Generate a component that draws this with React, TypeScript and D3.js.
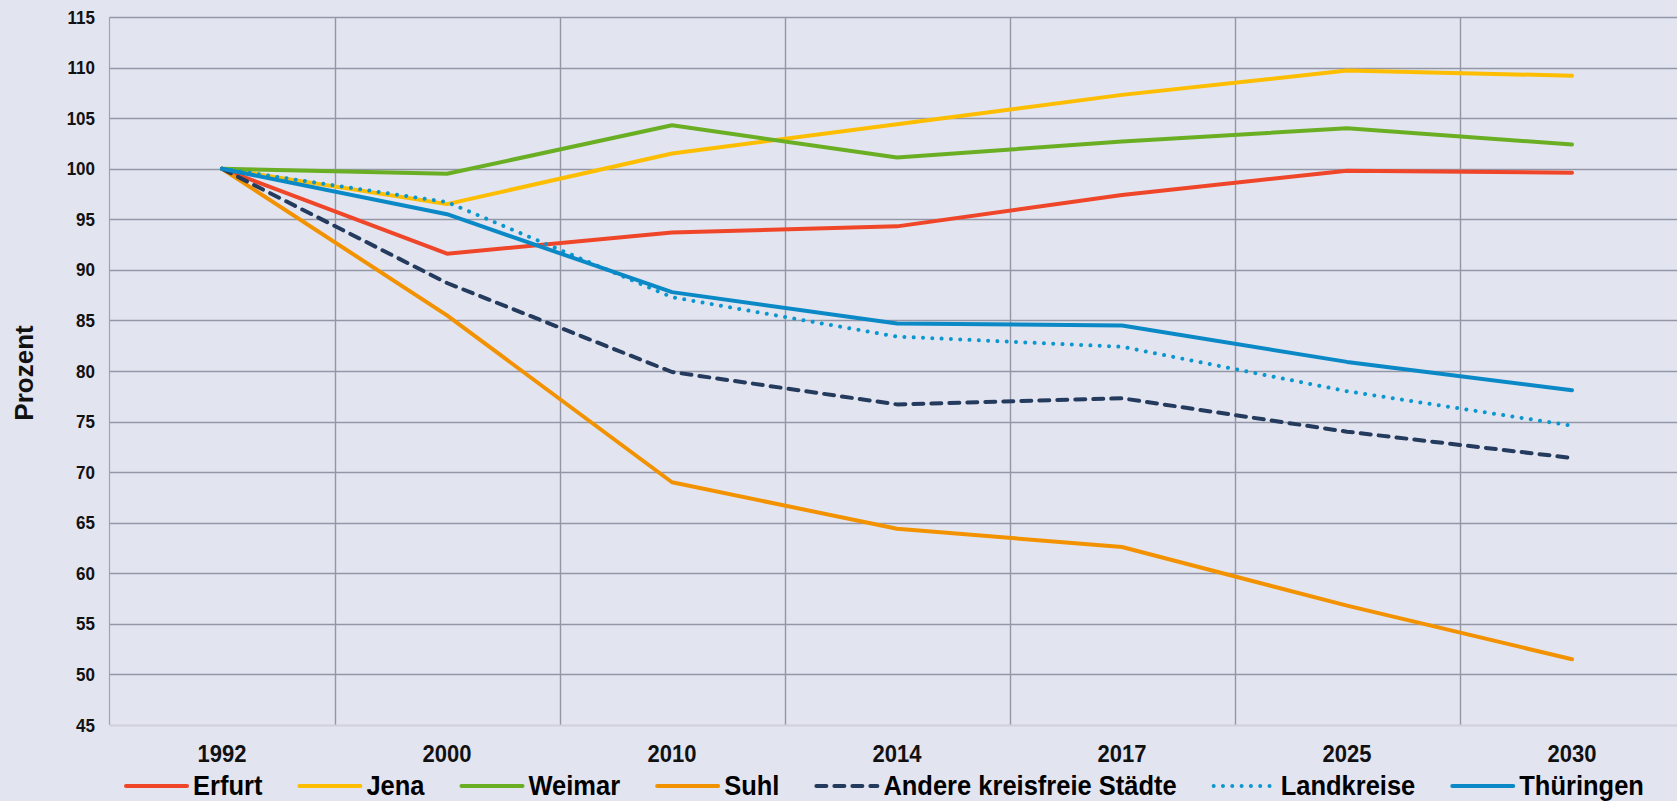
import React, { useRef, useEffect } from 'react';
import * as d3 from 'd3';

const years = ['1992', '2000', '2010', '2014', '2017', '2025', '2030'];
const yTicks = [45, 50, 55, 60, 65, 70, 75, 80, 85, 90, 95, 100, 105, 110, 115];

const erfurt = [100, 91.6, 93.7, 94.3, 97.4, 99.8, 99.6];
const jena = [100, 96.5, 101.5, 104.4, 107.3, 109.7, 109.2];
const weimar = [100, 99.5, 104.3, 101.1, 102.7, 104.0, 102.4];
const suhl = [100, 85.5, 69.0, 64.4, 62.6, 56.8, 51.5];
const andere = [100, 88.7, 79.9, 76.7, 77.3, 74.0, 71.4];
const landkreise = [100, 96.7, 87.3, 83.4, 82.4, 78.0, 74.6];
const thueringen = [100, 95.5, 87.8, 84.7, 84.5, 80.9, 78.1];

const seriesNames = ['Erfurt', 'Jena', 'Weimar', 'Suhl', 'Andere kreisfreie Städte', 'Landkreise', 'Thüringen'];
const seriesValues = [erfurt, jena, weimar, suhl, andere, landkreise, thueringen];
const seriesColors = ['#ef4529', '#fdbd00', '#6aaf23', '#f39200', '#243b5e', '#0a97d0', '#0a89c6'];
const seriesDash = [null, null, null, null, '10,8', '0.01,9.3', null];

const W = 1677;
const H = 801;
const FONT = '"Liberation Sans", Arial, sans-serif';

const App = () => {
  const svgRef = useRef<SVGSVGElement>(null);

  useEffect(() => {
    document.body.style.margin = '0';
    document.body.style.background = '#e2e4f0';

    const svg = d3.select(svgRef.current);
    svg.selectAll('*').remove();

    const left = 109.5;
    const band = 225;
    const top = 17;
    const bottom = 725;

    const x = d3.scaleBand().domain(years).range([left, left + band * years.length]).padding(0);
    const y = d3.scaleLinear().domain([45, 115]).range([bottom, top]);
    const cx = (d: string) => (x(d) as number) + x.bandwidth() / 2;

    svg.append('rect').attr('width', W).attr('height', H).attr('fill', '#e2e4f0');

    // horizontal grid
    svg.append('g')
      .selectAll('line')
      .data(yTicks.filter(t => t > 45))
      .enter()
      .append('line')
      .attr('x1', left)
      .attr('x2', W)
      .attr('y1', d => Math.round(y(d)) + 0.5)
      .attr('y2', d => Math.round(y(d)) + 0.5)
      .attr('stroke', '#9496a6')
      .attr('stroke-width', 1.4);

    // vertical grid between categories
    svg.append('g')
      .selectAll('line')
      .data(years.slice(1))
      .enter()
      .append('line')
      .attr('x1', d => Math.round(x(d) as number) + 0.5)
      .attr('x2', d => Math.round(x(d) as number) + 0.5)
      .attr('y1', top)
      .attr('y2', bottom)
      .attr('stroke', '#9496a6')
      .attr('stroke-width', 1.4);

    // axes
    svg.append('line')
      .attr('x1', left).attr('x2', left)
      .attr('y1', top).attr('y2', bottom)
      .attr('stroke', '#a3a4b3').attr('stroke-width', 1.2);
    svg.append('line')
      .attr('x1', left).attr('x2', W)
      .attr('y1', bottom + 0.5).attr('y2', bottom + 0.5)
      .attr('stroke', '#cfd0da').attr('stroke-width', 2);

    // y tick labels
    svg.append('g')
      .selectAll('text')
      .data(yTicks)
      .enter()
      .append('text')
      .attr('transform', d => `translate(95, ${y(d)}) scale(1, 1.08)`)
      .attr('dy', '0.36em')
      .attr('text-anchor', 'end')
      .attr('font-family', FONT)
      .attr('font-weight', 'bold')
      .attr('font-size', '17px')
      .attr('fill', '#111')
      .text(d => d);

    // x tick labels
    svg.append('g')
      .selectAll('text')
      .data(years)
      .enter()
      .append('text')
      .attr('transform', d => `translate(${cx(d)}, 762) scale(1, 1.06)`)
      .attr('text-anchor', 'middle')
      .attr('font-family', FONT)
      .attr('font-weight', 'bold')
      .attr('font-size', '22px')
      .attr('fill', '#111')
      .text(d => d);

    // y axis title
    svg.append('text')
      .attr('transform', 'translate(33, 373) rotate(-90)')
      .attr('text-anchor', 'middle')
      .attr('font-family', FONT)
      .attr('font-weight', 'bold')
      .attr('font-size', '26px')
      .attr('fill', '#111')
      .text('Prozent');

    // lines
    const line = d3.line<number>()
      .x((_, i) => cx(years[i]))
      .y(d => y(d));

    seriesValues.forEach((vals, i) => {
      const path = svg.append('path')
        .datum(vals)
        .attr('d', line)
        .attr('fill', 'none')
        .attr('stroke', seriesColors[i])
        .attr('stroke-width', 4)
        .attr('stroke-linejoin', 'round')
        .attr('stroke-linecap', 'round');
      if (seriesDash[i]) path.attr('stroke-dasharray', seriesDash[i] as string);
    });

    // legend
    const legend = svg.append('g');
    let lx = 126;
    const ly = 786;
    seriesNames.forEach((name, i) => {
      const sample = legend.append('line')
        .attr('x1', lx).attr('x2', lx + 61)
        .attr('y1', ly).attr('y2', ly)
        .attr('stroke', seriesColors[i])
        .attr('stroke-width', 4)
        .attr('stroke-linecap', 'round');
      if (seriesDash[i]) sample.attr('stroke-dasharray', seriesDash[i] as string);
      const t = legend.append('text')
        .attr('transform', `translate(${lx + 67}, 795) scale(1, 1.1)`)
        .attr('font-family', FONT)
        .attr('font-weight', 'bold')
        .attr('font-size', '25.5px')
        .attr('fill', '#000')
        .text(name);
      const w = (t.node() as SVGTextElement).getComputedTextLength();
      lx = lx + 67 + w + 37;
    });
  }, []);

  return (
    <div style={{ width: W, height: H, overflow: 'hidden' }}>
      <svg ref={svgRef} width={W} height={H} style={{ display: 'block' }}></svg>
    </div>
  );
};

export default App;
